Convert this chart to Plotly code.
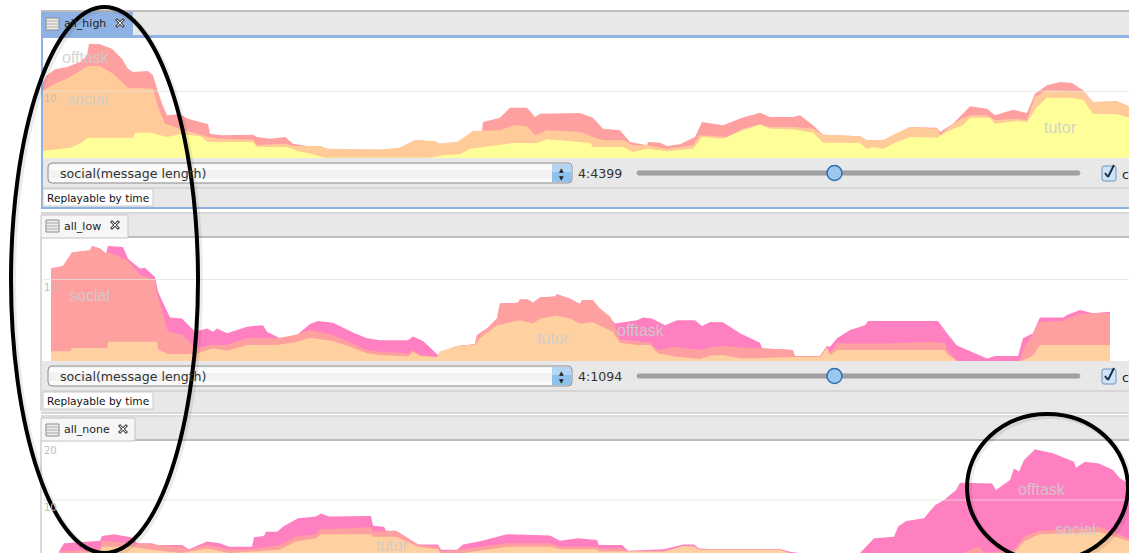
import plotly.graph_objects as go
from plotly.subplots import make_subplots

# ---- panel 1: all_high ----
H_TUTOR_T = [0,12,27,37,45,90,92,107,124,137,157,165,210,214,244,254,267,282,387,400,417,427,464,470,494,504,517,547,550,580,590,605,624,650,659,680,700,717,727,750,770,780,817,824,830,840,854,867,894,907,920,927,947,952,974,984,994,1004,1027,1040,1050,1074,1086]
H_TUTOR_V = [1.05,1.25,1.55,2.15,3.05,3.05,3.8,3.8,3.15,3.55,3.3,2.4,2.4,1.65,1.65,1.05,0.65,0.05,0.05,0.4,0.55,1.4,2.05,2.25,2.25,2.8,2.65,2.25,1.65,1.65,0.9,1.4,1.0,1.4,3.15,2.9,4.15,5.0,4.4,4.3,3.8,2.3,2.25,1.3,1.65,1.4,2.4,3.15,3.05,4.15,4.9,6.05,6.05,5.15,5.55,5.4,7.65,9.05,9.05,8.75,6.65,6.55,6.05]
H_SOCIAL_T = [0,12,24,45,57,70,85,110,115,122,137,154,165,177,210,214,242,250,277,284,337,357,372,392,397,414,430,457,470,484,492,504,537,550,560,580,590,604,624,650,657,684,700,717,727,750,770,780,817,824,840,854,867,894,897,907,920,929,944,952,974,984,992,1004,1040,1050,1074,1086]
H_SOCIAL_V = [10.05,11.15,11.9,13.8,13.8,12.65,10.55,10.4,7.65,5.15,4.4,3.65,3.15,2.9,2.75,1.9,2.15,1.8,1.8,1.4,1.25,1.55,2.65,2.5,2.15,2.4,4.05,4.15,4.9,4.75,3.4,4.15,3.9,3.15,2.65,2.65,1.9,1.9,1.4,1.9,3.4,3.15,4.4,5.05,4.65,4.65,4.4,3.5,3.25,2.65,2.65,3.75,4.65,4.4,3.4,4.75,6.05,6.4,6.4,5.65,5.9,5.65,9.15,10.15,10.0,8.4,8.5,7.75]
H_OFFTASK_T = [0,4,12,24,37,44,46,57,69,79,85,90,105,110,114,119,124,137,145,165,167,179,210,214,227,242,250,264,277,284,337,357,372,392,397,414,427,439,440,457,467,484,492,497,537,550,560,577,587,604,605,617,624,637,652,659,680,699,717,727,750,757,770,780,817,824,840,854,867,894,897,910,927,944,952,970,984,992,1004,1017,1029,1040,1050,1074,1086]
H_OFFTASK_V = [11.4,12.4,13.3,13.65,14.4,15.4,17.15,17.05,16.4,14.9,13.4,12.9,13.05,12.4,10.4,8.15,6.4,6.55,5.9,5.05,3.65,3.4,3.5,3.15,2.9,3.15,2.15,1.8,1.8,1.4,1.25,1.55,2.65,2.5,2.15,2.4,3.3,4.0,5.4,6.05,7.55,7.55,6.15,6.65,6.75,6.05,4.4,4.15,2.4,1.9,2.4,2.3,1.8,2.05,3.15,5.4,4.9,6.05,6.8,6.15,6.15,6.4,4.9,3.5,3.25,2.65,2.65,3.75,4.65,4.55,3.9,5.15,7.75,7.4,6.4,7.25,6.75,9.65,10.9,11.4,11.25,10.15,8.4,8.5,7.75]

# ---- panel 2: all_low ----
L_TUTOR_T = [8,27,29,64,65,114,115,125,147,154,170,184,204,234,252,267,290,307,324,337,365,370,377,394,397,414,432,437,454,477,490,497,514,527,537,550,570,577,594,607,615,632,657,667,680,697,717,750,777,784,787,794,902,904,914,977,980,990,997,1067]
L_TUTOR_V = [1.2,1.2,1.6,1.6,2.35,2.35,1.45,0.85,0.85,0.95,1.55,1.25,1.95,1.95,2.3,2.85,2.45,1.75,0.95,0.75,0.55,1.15,0.6,0.5,1.15,1.85,2.0,2.8,4.4,5.0,4.6,5.2,5.55,5.2,4.6,4.75,3.6,2.25,1.95,1.95,0.95,0.55,0.25,0.65,0.75,0.35,0.35,0.5,0.5,1.55,0.75,1.35,1.35,0.85,0,0,0.1,0.65,1.95,1.95]
L_SOCIAL_T = [8,20,29,47,49,57,63,65,84,97,112,113,125,140,152,167,184,205,234,252,267,290,324,337,365,370,377,394,397,414,432,434,444,454,457,475,477,485,490,497,512,514,527,537,539,550,557,567,572,577,594,607,615,632,657,667,680,697,717,750,752,777,784,787,794,840,890,902,904,914,977,980,990,997,1020,1024,1037,1050,1067]
L_SOCIAL_V = [11.35,11.65,13.3,13.6,14.1,13.8,13.2,13.4,12.4,10.55,10,8.7,3.6,3.2,1.55,1.95,1.95,2.85,2.8,3.2,3.8,3.2,1.35,1.15,0.95,1.35,0.75,0.5,1.15,1.85,2.05,3.2,4.0,5.2,7.05,7.15,7.55,7.55,7.15,7.8,7.9,8.2,7.65,7.0,7.45,7.45,6.45,5.45,4.2,2.65,2.45,2.25,1.35,1.75,1.35,1.7,1.85,1.65,1.55,1.35,0.6,0.6,1.85,0.95,2.15,2.15,2.35,2.15,1.35,0,0,1.35,3.4,4.8,4.9,5.2,5.75,5.85,5.85]
L_OFFTASK_T = [8,20,29,47,49,57,63,65,80,85,97,102,112,115,127,139,152,164,170,174,184,204,220,224,237,254,267,275,290,310,324,337,365,370,380,395,400,414,432,434,444,454,457,475,477,485,490,497,512,514,527,537,539,550,557,567,572,594,600,609,622,634,652,659,667,680,697,707,717,719,749,752,777,784,787,794,807,822,825,895,904,914,944,952,975,980,990,997,1020,1024,1037,1050,1065,1067]
L_OFFTASK_V = [11.35,11.65,13.3,13.6,14.1,13.8,13.2,14.1,14.0,12.55,11.35,11.45,10.3,8.5,5.35,5.2,3.6,4.0,3.6,4.0,3.4,4.2,4.4,3.6,2.8,3.2,4.55,4.9,4.7,3.5,2.8,2.55,2.55,3.0,2.45,0.75,1.15,1.85,2.05,3.2,4.0,5.2,7.05,7.15,7.55,7.55,7.15,7.8,7.9,8.2,7.65,7.0,7.45,7.45,6.05,5.3,4.6,5.0,5.35,5.2,4.4,5.0,5.0,4.3,4.8,4.75,3.4,2.8,2.25,1.55,1.35,0.6,0.6,1.85,1.75,2.8,3.8,4.4,4.9,4.9,3.4,1.9,0.3,0.6,0.6,2.8,3.4,5.35,5.35,5.65,6.25,5.85,6.05,6.05]

# ---- panel 3: all_none ----
N_TUTOR_T = [16,57,59,89,107,139,164,186,236,253,273,278,328,330,353,375,395,398,420,436,464,507,517,554,556,621,640,651,656,737,746,946,971,981,996,1039,1056,1077,1086]
N_TUTOR_V = [0.5,0.95,1.8,1.8,1.25,0.7,1.5,0.7,1.25,2.7,3.3,4.0,4.0,3.55,3.55,1.8,1.35,0.7,0.7,1.1,1.8,1.8,1.35,1.35,0.95,0.95,1.95,1.8,1.25,1.25,0.7,0.7,0.7,2.7,4.0,4.25,4.4,3.3,2.8]
N_SOCIAL_T = [16,57,59,91,109,139,146,164,186,209,236,253,273,277,328,330,353,375,395,398,420,436,464,507,517,554,556,579,585,621,640,651,656,737,746,921,935,942,971,981,996,1039,1056,1077,1086]
N_SOCIAL_V = [0.95,1.35,2.85,2.4,2.2,1.8,1.25,2.1,1.35,1.35,2.1,3.55,4.0,4.85,5.2,4.45,4.6,2.2,1.8,0.95,1.35,1.7,2.4,2.4,1.8,1.8,1.5,1.5,0.95,0.95,1.95,1.95,1.35,1.35,0.7,0.7,1.8,0.7,1.25,3.55,4.6,5.0,5.3,3.85,3.2]
N_OFFTASK_T = [16,21,57,59,71,89,94,109,114,139,146,164,177,186,209,211,221,223,234,241,255,273,278,286,328,330,341,343,353,375,395,398,414,420,436,464,507,517,535,554,556,579,585,621,640,651,656,667,737,746,756,817,831,851,855,863,881,892,901,913,917,949,953,967,971,976,981,992,1010,1031,1033,1042,1056,1070,1077,1086]
N_OFFTASK_V = [0.95,2.4,2.85,3.7,4.0,3.4,2.4,2.4,2.1,2.1,1.35,2.7,2.4,1.8,1.8,3.45,3.7,4.45,4.45,5.45,6.8,7.1,7.65,7.1,7.2,5.5,5.3,4.6,4.6,2.2,2.2,1.25,1.25,2.2,2.7,4.0,3.75,2.85,3.3,3.0,2.1,2.1,1.1,1.35,2.2,2.2,1.5,1.4,1.4,0.95,0.7,0.7,3.3,3.55,5.3,6.3,6.8,9.1,10,11.75,13.05,12.9,11.75,13.5,15.55,15,17,18.9,18.2,16.7,15.65,16.7,16.4,15.25,13.8,12.8]

TAB_NAMES = ["all_high", "all_low", "all_none"]
COMBO_TEXT = "social(message length)"
SUBTAB_TEXT = "Replayable by time"
TIMES = ["4:4399", "4:1094"]
TICK_LABELS = [("10", 1, 10), ("10", 2, 10), ("20", 3, 20), ("10", 3, 10)]
SERIES_LABELS = [
    ("offtask", 1, 43, 15.0), ("social", 1, 44, 8.7), ("tutor", 1, 1017, 4.6),
    ("social", 2, 46, 8.0), ("tutor", 2, 510, 2.8), ("offtask", 2, 598, 3.8),
    ("offtask", 3, 999, 11.8), ("social", 3, 1032, 4.8), ("tutor", 3, 349, 2.1),
]

W, H = 1129, 553
def px(x): return x / W
def py(y): return 1 - y / H

fig = make_subplots(rows=3, cols=1)
DOMS = [(37, 158, 18.15, 0), (239, 361, 14.97, 0), (442, 553, 20.18, 0.70)]
for i, (top, bot, ymax, ymin) in enumerate(DOMS):
    s = "" if i == 0 else str(i + 1)
    fig.layout["xaxis" + s].update(domain=[px(43), 1], range=[0, 1086], visible=False, fixedrange=True)
    fig.layout["yaxis" + s].update(domain=[py(bot), py(top)], range=[ymin, ymax], visible=False, fixedrange=True)

P1C = ["#FFA0A0", "#FFCC99", "#FFFF99"]
P2C = ["#FF80C0", "#FFA0A0", "#FFD0A0"]
def area(row, name, t, v, col):
    fig.add_trace(go.Scatter(x=t, y=v, name=name, mode="lines", line=dict(width=0, color=col),
                             fill="tozeroy", fillcolor=col, showlegend=False, hoverinfo="skip"),
                  row=row, col=1)
area(1, "offtask", H_OFFTASK_T, H_OFFTASK_V, P1C[0])
area(1, "social", H_SOCIAL_T, H_SOCIAL_V, P1C[1])
area(1, "tutor", H_TUTOR_T, H_TUTOR_V, P1C[2])
area(2, "offtask", L_OFFTASK_T, L_OFFTASK_V, P2C[0])
area(2, "social", L_SOCIAL_T, L_SOCIAL_V, P2C[1])
area(2, "tutor", L_TUTOR_T, L_TUTOR_V, P2C[2])
area(3, "offtask", N_OFFTASK_T, N_OFFTASK_V, P2C[0])
area(3, "social", N_SOCIAL_T, N_SOCIAL_V, P2C[1])
area(3, "tutor", N_TUTOR_T, N_TUTOR_V, P2C[2])

shapes = []
def rect(x0, y0, x1, y1, fill=None, line=None, lw=1, layer="below"):
    shapes.append(dict(type="rect", xref="paper", yref="paper", x0=px(x0), x1=px(x1), y0=py(y0), y1=py(y1),
                       fillcolor=fill or "rgba(0,0,0,0)", line=dict(color=line or "rgba(0,0,0,0)", width=lw if line else 0), layer=layer))
def seg(x0, y0, x1, y1, col, lw=1, layer="below"):
    shapes.append(dict(type="line", xref="paper", yref="paper", x0=px(x0), x1=px(x1), y0=py(y0), y1=py(y1),
                       line=dict(color=col, width=lw), layer=layer))
def rrect(x0, y0, x1, y1, r, fill, line, lw=1):
    X = lambda v: px(v); Y = lambda v: py(v)
    path = (f"M {X(x0+r)} {Y(y0)} L {X(x1-r)} {Y(y0)} Q {X(x1)} {Y(y0)} {X(x1)} {Y(y0+r)} L {X(x1)} {Y(y1-r)} "
            f"Q {X(x1)} {Y(y1)} {X(x1-r)} {Y(y1)} L {X(x0+r)} {Y(y1)} Q {X(x0)} {Y(y1)} {X(x0)} {Y(y1-r)} "
            f"L {X(x0)} {Y(y0+r)} Q {X(x0)} {Y(y0)} {X(x0+r)} {Y(y0)} Z")
    shapes.append(dict(type="path", xref="paper", yref="paper", path=path, fillcolor=fill,
                       line=dict(color=line, width=lw), layer="below"))
def ellipse(x0, y0, x1, y1, col, lw):
    shapes.append(dict(type="circle", xref="paper", yref="paper", x0=px(x0), x1=px(x1), y0=py(y0), y1=py(y1),
                       line=dict(color=col, width=lw), fillcolor="rgba(0,0,0,0)", layer="above"))

GR = "#E8E8E8"
BLUE = "#8FB2E4"
anns = []
def text(x, y, s, size=11, col="#333", anchor="left", fam="DejaVu Sans"):
    anns.append(dict(xref="paper", yref="paper", x=px(x - 2 if anchor == "left" else x), y=py(y), text=s, showarrow=False, xanchor=anchor,
                     yanchor="middle", font=dict(size=size, color=col, family=fam)))

def tabicon(x, y):
    rect(x, y, x + 13, y + 12, "#EDEDED", "#8A8A8A")
    for k in (3, 6, 9):
        seg(x, y + k, x + 13, y + k, "#AAAAAA")
def closeicon(x, y):
    seg(x - 4, y - 4, x + 4, y + 4, "#555555", 3)
    seg(x - 4, y + 4, x + 4, y - 4, "#555555", 3)
    seg(x - 3, y - 3, x + 3, y + 3, "#F4F4F4", 1)
    seg(x - 3, y + 3, x + 3, y - 3, "#F4F4F4", 1)
def controls(yc, time):
    rrect(48, yc - 10, 572, yc + 10, 4, "#F2F2F2", "#8E8E8E", 1)
    rect(50, yc - 8, 552, yc - 3, "#FBFBFB")
    rect(50, yc + 5, 552, yc + 9, "#FAFAFA")
    rect(552, yc - 9, 571, yc + 9, "#8FC1EC")
    rect(552, yc - 9, 571, yc - 1, "#B5D6F2")
    text(561.5, yc - 4, "▲", 6, "#222", "center")
    text(561.5, yc + 4, "▼", 6, "#222", "center")
    text(60, yc, COMBO_TEXT, 12.6, "#333")
    text(578, yc, time, 12.6, "#333")
    rrect(637, yc - 2, 1080, yc + 2, 2, "#A2A2A2", "#9A9A9A", 1)
    shapes.append(dict(type="circle", xref="paper", yref="paper", x0=px(827), x1=px(842), y0=py(yc - 7.5), y1=py(yc + 7.5),
                       fillcolor="#9CC8F0", line=dict(color="#2F6FB5", width=1.5), layer="below"))
    rrect(1102, yc - 7, 1116, yc + 8, 2, "#CFE4F8", "#6D93BA", 1)
    seg(1105, yc, 1108, yc + 4, "#1F2E44", 2)
    seg(1108, yc + 4, 1114, yc - 8, "#1F2E44", 2)
    text(1122, yc + 1, "c", 12.6, "#222")
def subtab(y0, y1, blue=False):
    rect(43, y0, 153, y1, "#FFFFFF", "#C8C8C8")
    text(47, (y0 + y1) / 2, SUBTAB_TEXT, 10.6, "#111")

# panel 1 chrome
rect(41, 11, 1129, 36, GR)
seg(41, 11, 1129, 11, "#ABABAB", 1.5)
rect(41, 12, 133, 35, BLUE)
rect(41, 35, 1129, 38, BLUE)
rect(41, 158, 1129, 208, GR)
seg(43, 188, 1129, 188, "#C4C4C4", 1)
rect(41, 207, 1129, 209, BLUE)
rect(41, 36, 43, 208, BLUE)
tabicon(46, 18); closeicon(120, 23)
text(64, 23.5, TAB_NAMES[0], 11, "#222")
controls(173, TIMES[0])
subtab(189, 206)

# panel 2 chrome
seg(41, 213, 1129, 213, "#B0B0B0", 1)
rect(41, 214, 1129, 237, GR)
rect(41, 215, 128, 238, "#F6F6F6", "#C4C4C4")
seg(128, 237, 1129, 237, "#BDBDBD", 2)
seg(41, 238, 41, 411, "#B5B5B5", 1)
rect(42, 361, 1129, 412, GR)
seg(43, 391, 1129, 391, "#C4C4C4", 1)
tabicon(46, 220); closeicon(115, 225)
text(64, 226, TAB_NAMES[1], 11, "#222")
controls(376, TIMES[1])
subtab(392, 409)

# panel 3 chrome
seg(41, 413, 1129, 413, "#B0B0B0", 1)
seg(41, 416, 1129, 416, "#B8B8B8", 1)
rect(41, 417, 1129, 441, GR)
rect(41, 418, 135, 441, "#F6F6F6", "#C4C4C4")
seg(135, 440, 1129, 440, "#BDBDBD", 2)
seg(41, 441, 41, 553, "#B5B5B5", 1)
tabicon(46, 424); closeicon(123, 429)
text(64, 429.5, TAB_NAMES[2], 11, "#222")

# gridlines (semi-transparent, drawn over the areas)
for row, y in ((1, 10), (2, 10), (3, 10)):
    s = "" if row == 1 else str(row)
    shapes.append(dict(type="line", xref="x" + s + " domain", yref="y" + s, x0=0, x1=1, y0=y, y1=y,
                       line=dict(color="rgba(225,225,225,0.75)", width=1), layer="above"))

# black hand-drawn ellipses with soft shadow
ellipse(13, 9, 200, 555, "rgba(0,0,0,0.08)", 6)
ellipse(969, 416, 1130, 563, "rgba(0,0,0,0.08)", 6)
ellipse(11, 7, 198, 553, "#000000", 4)
ellipse(967, 414, 1128, 561, "#000000", 4)

# tick labels and series labels
for lab, row, val in TICK_LABELS:
    s = "" if row == 1 else str(row)
    anns.append(dict(xref="paper", yref="y" + s, x=px(42), y=val, text=lab, showarrow=False, xanchor="left",
                     yanchor="top", font=dict(size=10, color="#BDBDBD", family="DejaVu Sans")))
for lab, row, t, v in SERIES_LABELS:
    s = "" if row == 1 else str(row)
    anns.append(dict(xref="x" + s, yref="y" + s, x=t, y=v, text=lab, showarrow=False, xanchor="center", yanchor="middle",
                     font=dict(size=16, color="rgba(205,205,205,0.9)", family="Liberation Sans")))

fig.update_layout(width=W, height=H, margin=dict(l=0, r=0, t=0, b=0), paper_bgcolor="white", plot_bgcolor="white",
                  shapes=shapes, annotations=anns, showlegend=False, hovermode=False)
fig.write_html("out.html", config=dict(displayModeBar=False, staticPlot=True),
               post_script="document.body.style.margin='0';document.body.style.overflow='hidden';")
